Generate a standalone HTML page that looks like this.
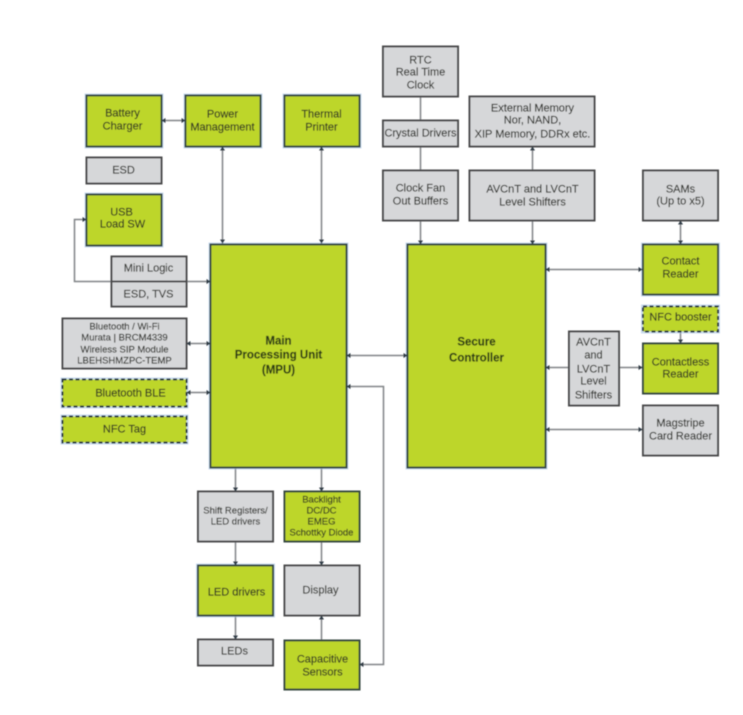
<!DOCTYPE html>
<html>
<head>
<meta charset="utf-8">
<style>
html,body{margin:0;padding:0;background:#fff;width:743px;height:715px;overflow:hidden}
svg{display:block;position:absolute;left:0;top:0}
text{font-family:"Liberation Sans",sans-serif;font-size:11px;fill:#2a2c26;stroke:#2a2c26;stroke-width:.15;text-anchor:middle}
.g{fill:#bdd62a;stroke:#34463f;stroke-width:2}
.s{fill:#d6d7d9;stroke:#484a4c;stroke-width:2}
.d{fill:#bdd62a;stroke:#22303e;stroke-width:2;stroke-dasharray:4 2.500}
.gl{fill:none;stroke:#a9c4e4;stroke-width:4;opacity:.6}
.l{stroke:#808386;stroke-width:1.500;fill:none}
.a{fill:#2f3b45}
.b{font-weight:bold;font-size:11.500px;fill:#2c3a18;stroke:#2c3a18}
.sm{font-size:9.500px}
</style>
</head>
<body>
<svg width="743" height="715" viewBox="0 0 743 715" xmlns="http://www.w3.org/2000/svg">
<defs><filter id="f" x="-2%" y="-2%" width="104%" height="104%"><feGaussianBlur stdDeviation="0.4"/></filter></defs>
<g filter="url(#f)" transform="translate(0.5,0.5)">
<!-- connectors -->
<g class="l">
<path d="M161 120H185"/>
<path d="M222 146V243"/>
<path d="M321 146V243"/>
<path d="M86 219H74V281H210"/>
<path d="M186 343H210"/>
<path d="M186 392H210"/>
<path d="M346 355H407"/>
<path d="M346 386H383V664H359"/>
<path d="M235 467V491"/>
<path d="M321 467V491"/>
<path d="M235 541V565"/>
<path d="M321 541V565"/>
<path d="M235 615V639"/>
<path d="M321 640V615"/>
<path d="M420 96V243"/>
<path d="M532 146V243"/>
<path d="M680 220V244"/>
<path d="M545 269H642"/>
<path d="M545 367H642"/>
<path d="M545 429H642"/>
<path d="M680 331V343"/>
</g>
<!-- boxes -->
<g>
<rect class="gl" x="86" y="95" width="75" height="51"/>
<rect class="g" x="86" y="95" width="75" height="51"/>
<rect class="gl" x="185" y="95" width="75" height="51"/>
<rect class="g" x="185" y="95" width="75" height="51"/>
<rect class="gl" x="284" y="95" width="75" height="51"/>
<rect class="g" x="284" y="95" width="75" height="51"/>
<rect class="s" x="86" y="157" width="75" height="26"/>
<rect class="gl" x="86" y="194" width="75" height="51"/>
<rect class="g" x="86" y="194" width="75" height="51"/>
<rect class="s" x="111" y="256" width="75" height="25"/>
<rect class="s" x="111" y="281" width="75" height="25"/>
<rect class="s" x="62" y="318" width="124" height="50"/>
<rect class="gl" x="62" y="379" width="124" height="27"/>
<rect class="d" x="62" y="379" width="124" height="27"/>
<rect class="gl" x="62" y="416" width="124" height="26"/>
<rect class="d" x="62" y="416" width="124" height="26"/>
<rect class="gl" x="210" y="244" width="136" height="223"/>
<rect class="g" x="210" y="244" width="136" height="223"/>
<rect class="gl" x="407" y="244" width="138" height="223"/>
<rect class="g" x="407" y="244" width="138" height="223"/>
<rect class="s" x="197.500" y="491" width="75" height="50"/>
<rect class="g" x="284" y="491" width="75" height="50"/>
<rect class="gl" x="197.500" y="565" width="75" height="50"/>
<rect class="g" x="197.500" y="565" width="75" height="50"/>
<rect class="s" x="284" y="565" width="75" height="50"/>
<rect class="s" x="197.500" y="639" width="75" height="26"/>
<rect class="g" x="284" y="640" width="75" height="49"/>
<rect class="s" x="382.500" y="46" width="75" height="50"/>
<rect class="s" x="382.500" y="120" width="75" height="26"/>
<rect class="s" x="382.500" y="170" width="75" height="50"/>
<rect class="s" x="469" y="96" width="125" height="50"/>
<rect class="s" x="469" y="170" width="125" height="50"/>
<rect class="s" x="642.500" y="170" width="75" height="50"/>
<rect class="gl" x="642.500" y="244" width="75" height="50"/>
<rect class="g" x="642.500" y="244" width="75" height="50"/>
<rect class="gl" x="642.500" y="306" width="75" height="25"/>
<rect class="d" x="642.500" y="306" width="75" height="25"/>
<rect class="g" x="642.500" y="343" width="75" height="50"/>
<rect class="s" x="568.500" y="331" width="50" height="74"/>
<rect class="s" x="642.500" y="405" width="75" height="50"/>
</g>
<!-- arrowheads -->
<g class="a">
<path d="M161 120l4-2.500v5zM185 120l-4-2.500v5z"/>
<path d="M222 146l-2.500 4h5zM222 243l-2.500-4h5z"/>
<path d="M321 146l-2.500 4h5zM321 243l-2.500-4h5z"/>
<path d="M86 219l-4-2.500v5zM210 281l-4-2.500v5z"/>
<path d="M186 343l4-2.500v5zM210 343l-4-2.500v5z"/>
<path d="M186 392l4-2.500v5zM210 392l-4-2.500v5z"/>
<path d="M346 355l4-2.500v5zM407 355l-4-2.500v5z"/>
<path d="M346 386l4-2.500v5zM359 664l4-2.500v5z"/>
<path d="M235 491l-2.500-4h5zM321 491l-2.500-4h5z"/>
<path d="M235 565l-2.500-4h5zM321 565l-2.500-4h5z"/>
<path d="M235 639l-2.500-4h5zM321 615l-2.500 4h5z"/>
<path d="M420 244l-2.500-4h5zM532 244l-2.500-4h5zM532 146l-2.500 4h5z"/>
<path d="M680 220l-2.500 4h5zM680 244l-2.500-4h5z"/>
<path d="M545 269l4-2.500v5zM642 269l-4-2.500v5z"/>
<path d="M545 367l4-2.500v5zM642 367l-4-2.500v5z"/>
<path d="M545 429l4-2.500v5zM642 429l-4-2.500v5z"/>
<path d="M680 343l-2.500-4h5z"/>
</g>
<!-- labels -->
<text x="122" y="116">Battery</text><text x="122" y="129">Charger</text>
<text x="222" y="117">Power</text><text x="222" y="130">Management</text>
<text x="321" y="117">Thermal</text><text x="321" y="130">Printer</text>
<text x="123" y="173">ESD</text>
<text x="121" y="215">USB</text><text x="122" y="227">Load SW</text>
<text x="148" y="271">Mini Logic</text>
<text x="148" y="297">ESD, TVS</text>
<text class="sm" x="124" y="329">Bluetooth / Wi-Fi</text><text class="sm" x="124" y="340">Murata | BRCM4339</text><text class="sm" x="124" y="352">Wireless SIP Module</text><text class="sm" x="124" y="363">LBEHSHMZPC-TEMP</text>
<text x="130" y="396">Bluetooth BLE</text>
<text x="124" y="432">NFC Tag</text>
<text class="b" x="278" y="344">Main</text>
<text class="b" x="278" y="358">Processing Unit</text>
<text class="b" x="278" y="373">(MPU)</text>
<text class="b" x="476" y="345">Secure</text>
<text class="b" x="476" y="361">Controller</text>
<text class="sm" x="235" y="513">Shift Registers/</text><text class="sm" x="235" y="524">LED drivers</text>
<text class="sm" x="321" y="502">Backlight</text><text class="sm" x="321" y="513">DC/DC</text><text class="sm" x="321" y="524">EMEG</text><text class="sm" x="321" y="535">Schottky Diode</text>
<text x="236" y="595">LED drivers</text>
<text x="320" y="593">Display</text>
<text x="234" y="654">LEDs</text>
<text x="322" y="662">Capacitive</text><text x="322" y="675">Sensors</text>
<text x="420" y="63">RTC</text><text x="420" y="75">Real Time</text><text x="420" y="88">Clock</text>
<text x="420" y="136">Crystal Drivers</text>
<text x="420" y="191">Clock Fan</text><text x="420" y="204">Out Buffers</text>
<text x="532" y="111">External Memory</text><text x="532" y="123">Nor, NAND,</text><text x="532" y="137">XIP Memory, DDRx etc.</text>
<text x="532" y="192">AVCnT and LVCnT</text><text x="532" y="205">Level Shifters</text>
<text x="680" y="192">SAMs</text><text x="680" y="204">(Up to x5)</text>
<text x="680" y="264">Contact</text><text x="680" y="277">Reader</text>
<text x="680" y="320">NFC booster</text>
<text x="680" y="365">Contactless</text><text x="680" y="377">Reader</text>
<text x="593" y="345">AVCnT</text><text x="593" y="358">and</text><text x="593" y="372">LVCnT</text><text x="593" y="384">Level</text><text x="593" y="398">Shifters</text>
<text x="680" y="426">Magstripe</text><text x="680" y="439">Card Reader</text>
</g>
</svg>
</body>
</html>
